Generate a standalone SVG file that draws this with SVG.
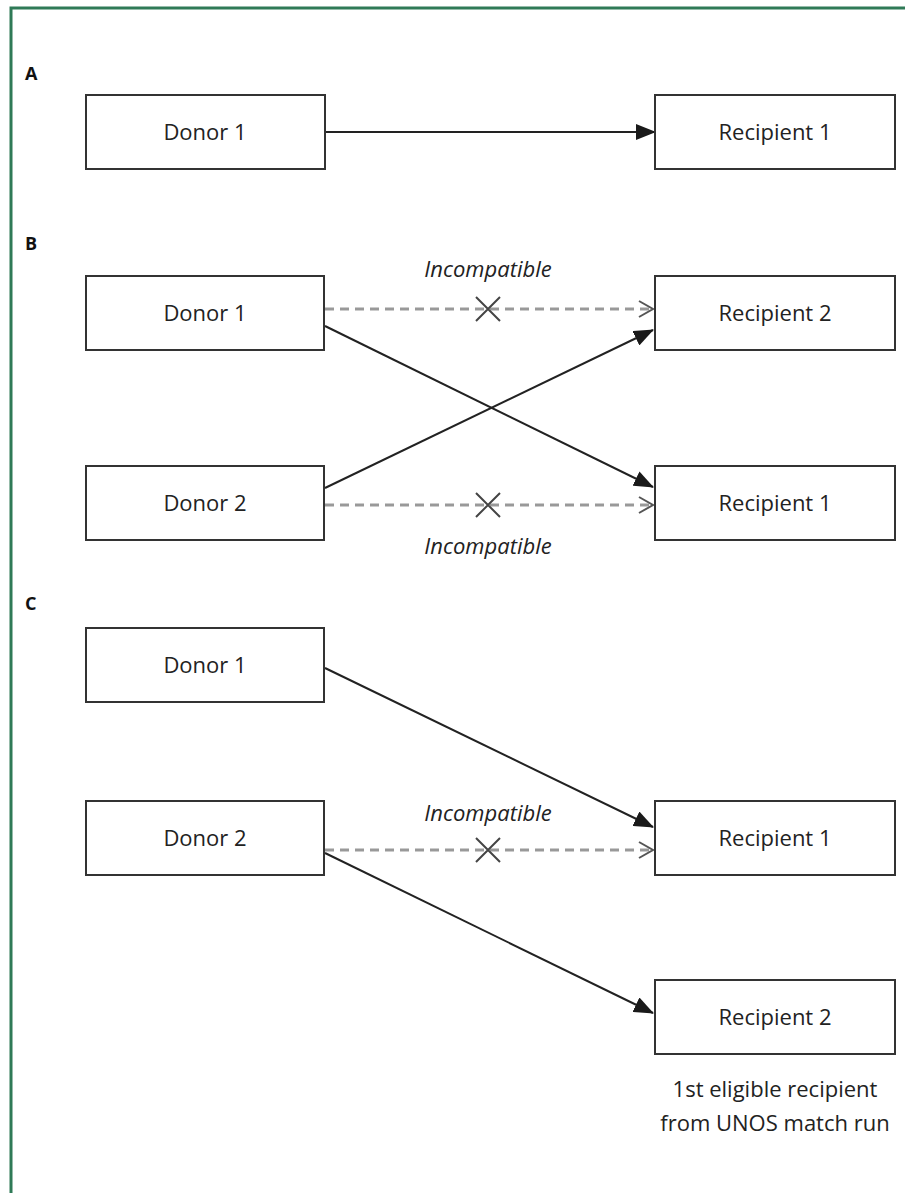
<svg xmlns="http://www.w3.org/2000/svg" width="905" height="1193" viewBox="0 0 905 1193">
<defs>
<marker id="solidHead" markerUnits="userSpaceOnUse" markerWidth="20" markerHeight="16" viewBox="0 0 20 16" refX="19" refY="8" orient="auto">
<path d="M0,0 L20,8 L0,16 Z" fill="#1a1a1a"/>
</marker>
<marker id="openHead" markerUnits="userSpaceOnUse" markerWidth="18" markerHeight="20" viewBox="0 0 18 20" refX="16" refY="10" orient="auto">
<path d="M2,2 L16,10 L2,18" fill="none" stroke="#555" stroke-width="2"/>
</marker>
</defs>
<style>
.box{fill:#fff;stroke:#333;stroke-width:2}
.lbl{font-family:"Open Sans","Liberation Sans",sans-serif;font-size:22px;fill:#222;text-anchor:middle}
.sec{font-family:"Open Sans","Liberation Sans",sans-serif;font-size:18px;font-weight:bold;fill:#111}
.inc{font-family:"Open Sans","Liberation Sans",sans-serif;font-size:22px;font-style:italic;fill:#222;text-anchor:middle}
.solid{stroke:#222;stroke-width:2;fill:none;marker-end:url(#solidHead)}
.dash{stroke:#999;stroke-width:3;stroke-dasharray:9 6;fill:none;marker-end:url(#openHead)}
.x{stroke:#444;stroke-width:2;fill:none}
</style>
<rect width="905" height="1193" fill="#fff"/>
<path d="M11,1193 L11,8 L905,8" fill="none" stroke="#2f7a57" stroke-width="3"/>
<text class="sec" x="25" y="80">A</text>
<text class="sec" x="25" y="250">B</text>
<text class="sec" x="25" y="610">C</text>

<g id="connectors">
<line class="solid" x1="325" y1="132" x2="655" y2="132"/>
<line class="dash" x1="325" y1="309" x2="653" y2="309"/>
<path class="x" d="M476,297 L500,321 M500,297 L476,321"/>
<line class="solid" x1="325" y1="326" x2="653" y2="487"/>
<line class="solid" x1="325" y1="488" x2="653" y2="330"/>
<line class="dash" x1="325" y1="505" x2="653" y2="505"/>
<path class="x" d="M476,493 L500,517 M500,493 L476,517"/>
<line class="solid" x1="325" y1="668" x2="653" y2="827"/>
<line class="dash" x1="325" y1="850" x2="653" y2="850"/>
<path class="x" d="M476,838 L500,862 M500,838 L476,862"/>
<line class="solid" x1="325" y1="853" x2="653" y2="1013"/>
<text class="inc" x="488" y="277">Incompatible</text>
<text class="inc" x="488" y="554">Incompatible</text>
<text class="inc" x="488" y="821">Incompatible</text>
</g>

<g id="a-donor1"><rect class="box" x="86" y="95" width="239" height="74"/><text class="lbl" x="205" y="140">Donor 1</text></g>
<g id="a-recipient1"><rect class="box" x="655" y="95" width="240" height="74"/><text class="lbl" x="775" y="140">Recipient 1</text></g>

<g id="b-donor1"><rect class="box" x="86" y="276" width="238" height="74"/><text class="lbl" x="205" y="321">Donor 1</text></g>
<g id="b-recipient2"><rect class="box" x="655" y="276" width="240" height="74"/><text class="lbl" x="775" y="321">Recipient 2</text></g>
<g id="b-donor2"><rect class="box" x="86" y="466" width="238" height="74"/><text class="lbl" x="205" y="511">Donor 2</text></g>
<g id="b-recipient1"><rect class="box" x="655" y="466" width="240" height="74"/><text class="lbl" x="775" y="511">Recipient 1</text></g>

<g id="c-donor1"><rect class="box" x="86" y="628" width="238" height="74"/><text class="lbl" x="205" y="673">Donor 1</text></g>
<g id="c-donor2"><rect class="box" x="86" y="801" width="238" height="74"/><text class="lbl" x="205" y="846">Donor 2</text></g>
<g id="c-recipient1"><rect class="box" x="655" y="801" width="240" height="74"/><text class="lbl" x="775" y="846">Recipient 1</text></g>
<g id="c-recipient2"><rect class="box" x="655" y="980" width="240" height="74"/><text class="lbl" x="775" y="1025">Recipient 2</text></g>

<g id="c-note">
<text class="lbl" x="775" y="1097">1st eligible recipient</text>
<text class="lbl" x="775" y="1131">from UNOS match run</text>
</g>
</svg>
